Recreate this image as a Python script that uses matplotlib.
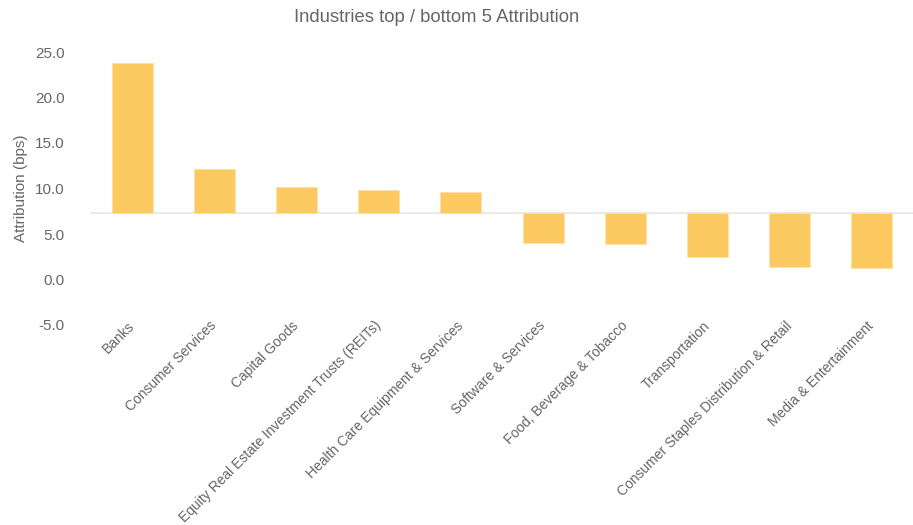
import matplotlib
matplotlib.use('Agg')
import matplotlib.pyplot as plt
import numpy as np

plt.rcParams['font.family'] = ['Liberation Sans', 'DejaVu Sans']

industries = ['Banks', 'Consumer Services', 'Capital Goods',
              'Equity Real Estate Investment Trusts (REITs)',
              'Health Care Equipment & Services', 'Software & Services',
              'Food, Beverage & Tobacco', 'Transportation',
              'Consumer Staples Distribution & Retail', 'Media & Entertainment']
attribution = [23.8, 12.1, 10.2, 9.85, 9.65, 4.05, 3.95, 2.5, 1.4, 1.3]
baseline = 7.3
y_ticks = [-5.0, 0.0, 5.0, 10.0, 15.0, 20.0, 25.0]

fig = plt.figure(figsize=(9.13, 5.25), dpi=100)
ax = fig.add_axes([91 / 913, 200 / 525, 822 / 913, 273 / 525])

x = np.arange(len(industries))
heights = [v - baseline for v in attribution]
ax.bar(x, heights, bottom=baseline, width=0.5, color='#fdca62',
       edgecolor='#fde2a6', linewidth=0.6, zorder=3)
ax.axhline(baseline, color='#e6e6e6', linewidth=1.2, zorder=2)

ax.set_xlim(-0.5, len(industries) - 0.5)
ax.set_ylim(-5, 25)
ax.set_yticks(y_ticks)
ax.set_yticklabels([f'{t:.1f}' for t in y_ticks], fontsize=11, color='#666666')
ax.set_xticks(x)
ax.set_xticklabels(industries, rotation=45, ha='right', va='center',
                   rotation_mode='anchor', fontsize=10, color='#666666')
ax.tick_params(axis='both', length=0)
ax.tick_params(axis='y', pad=19)
ax.tick_params(axis='x', pad=-1)
for s in ax.spines.values():
    s.set_visible(False)

ax.set_ylabel('Attribution (bps)', fontsize=11, color='#666666', labelpad=5)
fig.text(437 / 913, 1 - 18 / 525, 'Industries top / bottom 5 Attribution',
         ha='center', va='center', fontsize=13.3, color='#666666')

fig.savefig('out.png', dpi=100)
